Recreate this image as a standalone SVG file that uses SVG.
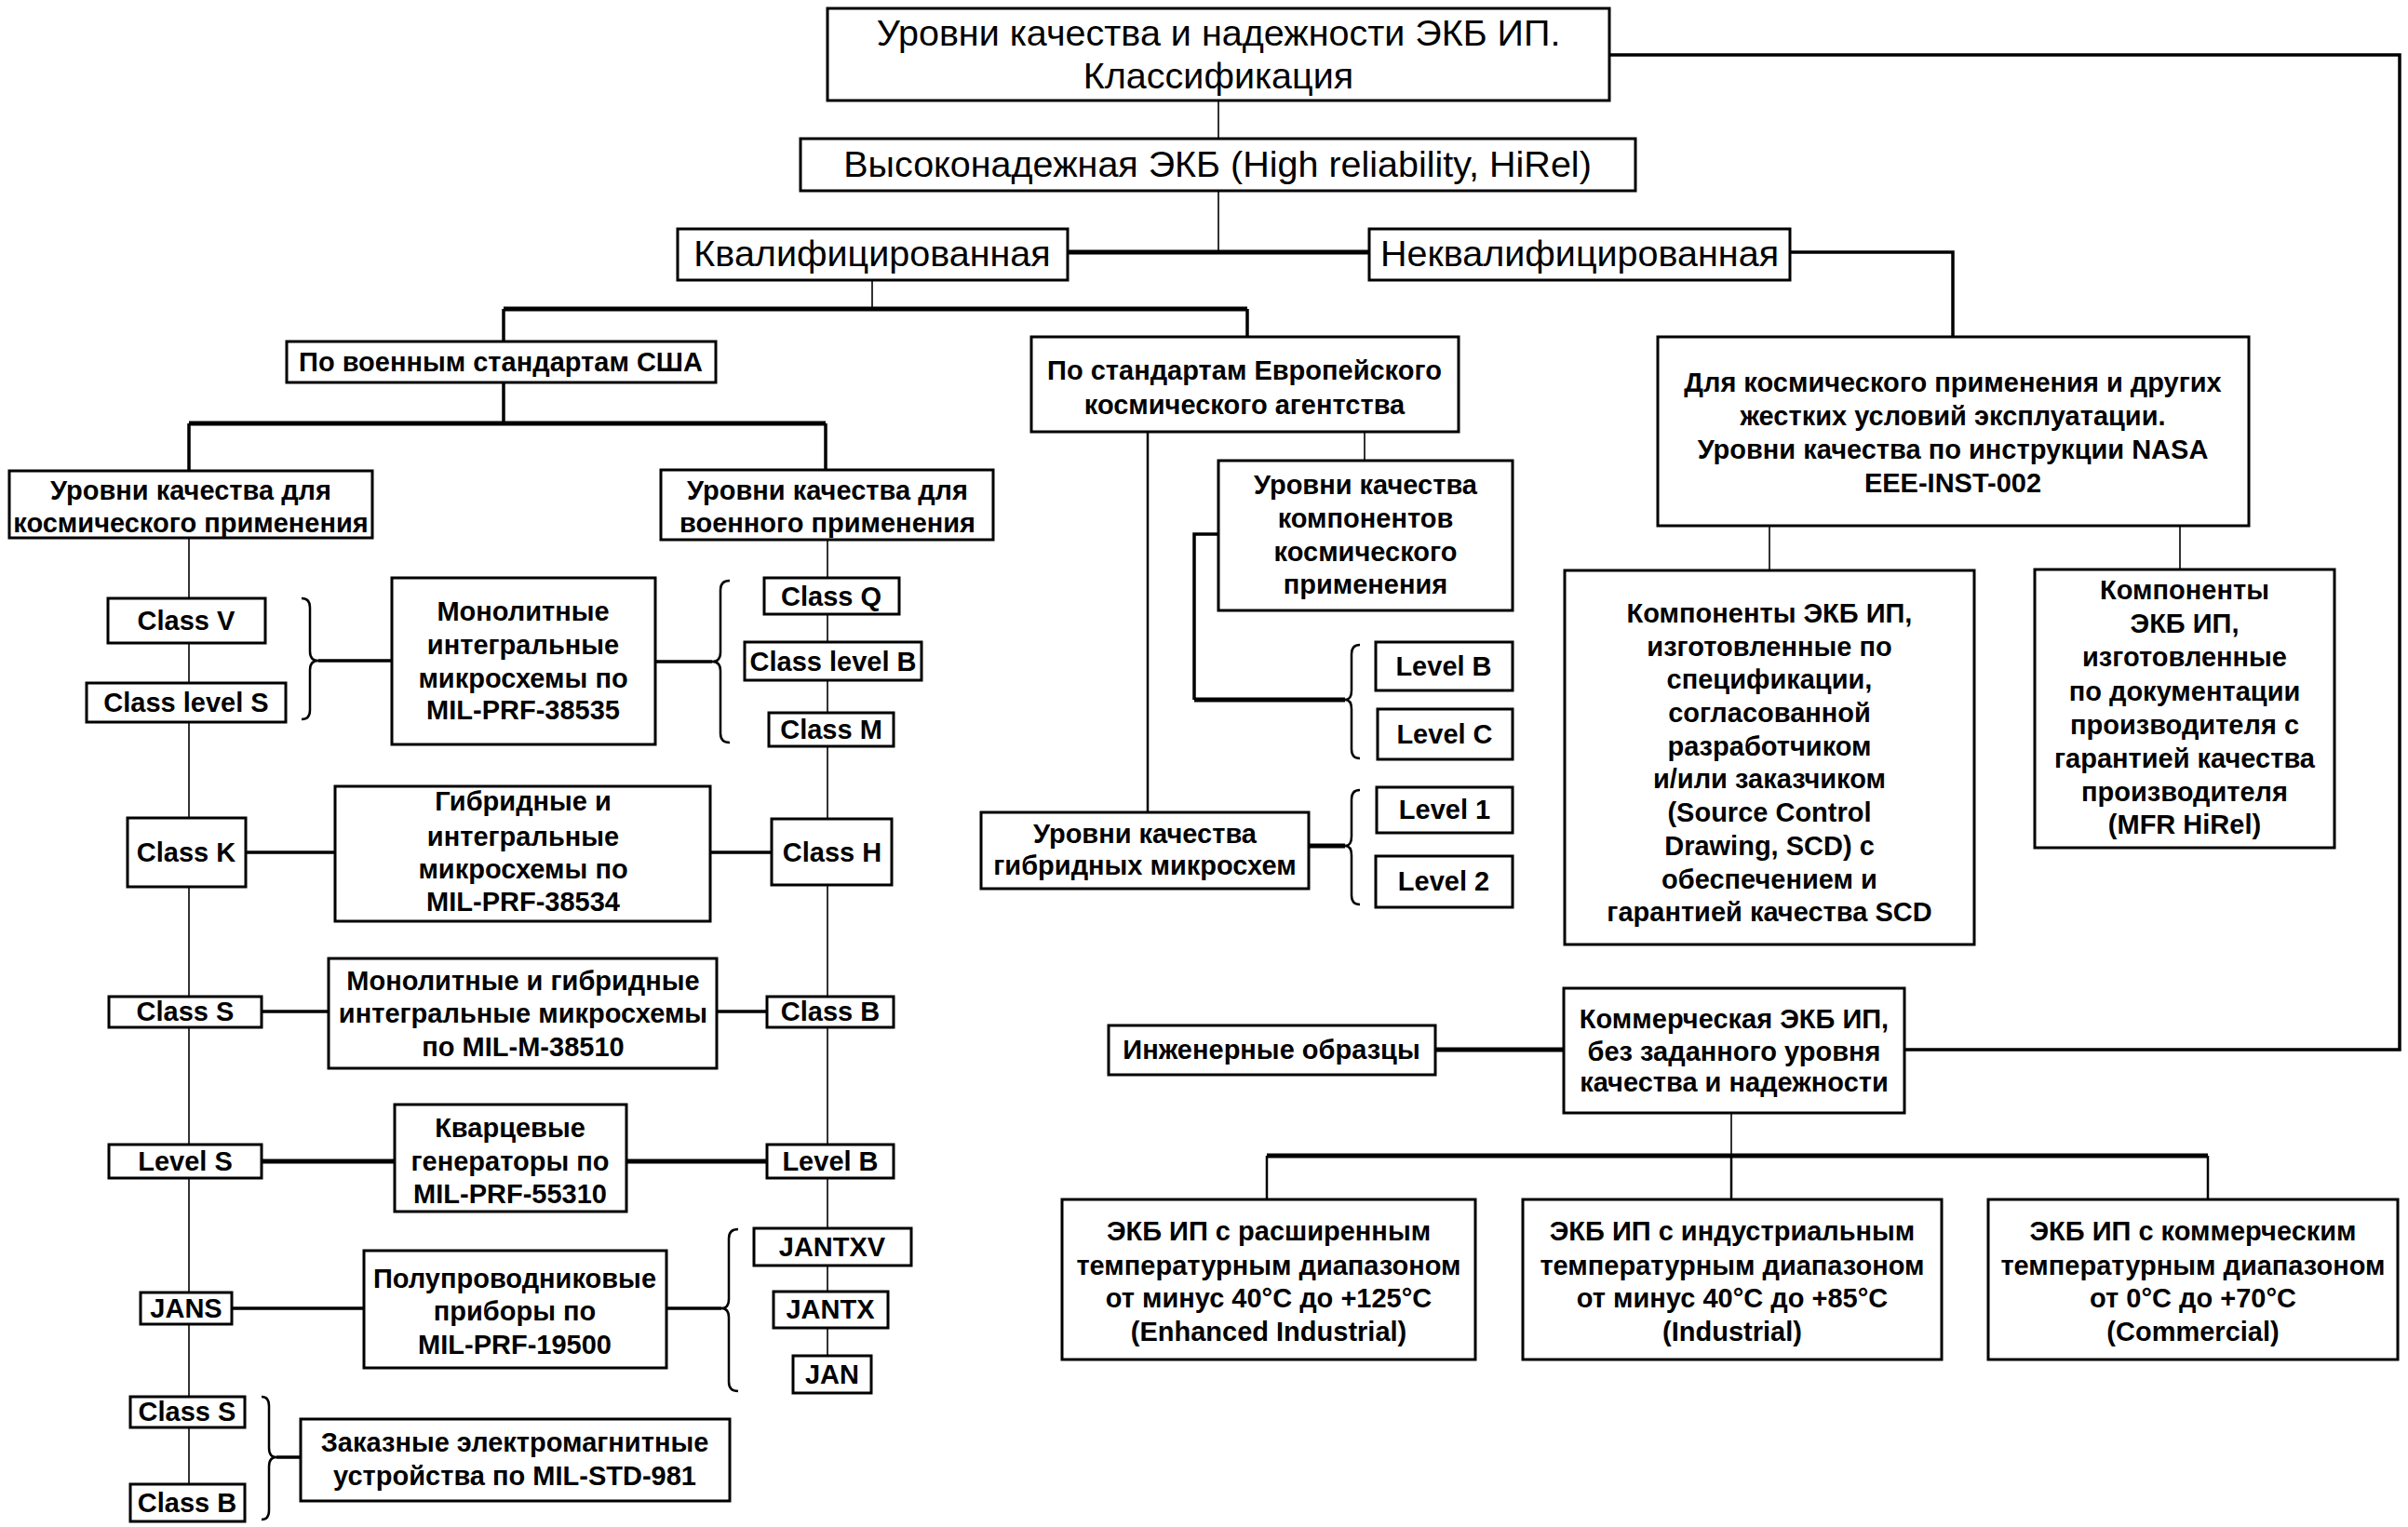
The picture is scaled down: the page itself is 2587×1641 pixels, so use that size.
<svg xmlns="http://www.w3.org/2000/svg" width="2587" height="1641" viewBox="0 0 2587 1641">
<style>
rect.b{fill:#fff;stroke:#000;stroke-width:3}
text{font-family:"Liberation Sans",Arial,sans-serif;fill:#000;text-anchor:middle}
.t1{font-size:39.5px}
.t2{font-size:29px;font-weight:bold}
.c path{fill:none;stroke:#000;stroke-linejoin:miter}
.w1{stroke-width:1.6}
.w2{stroke-width:2.5}
.w3{stroke-width:3.5}
.w4{stroke-width:5}
.br{stroke-width:2.5}
</style>
<rect width="2587" height="1641" fill="#fff"/>
<g id="connectors" class="c">
<path class="w1" d="M1309,108V149M1309,205V271M937,301V332M203,578V1595M889,580V1457M1466,464V495M1901,566V613M2342,566V612M1860,1196V1242"/>
<path class="w2" d="M1361,1242V1289M1860,1242V1289M2372,1242V1289M1233,464V873"/>
<path class="w3" d="M1923,271H2098V362M541,332V367M1340,332V362M541,411V455M203,455V506M887,455V505M1309,574H1283V752"/>
<path class="w4" d="M1147,271H1471M541,332H1340M203,455H887M1542,1128H1680M1361,1242H2372M281,1248H424M673,1248H824M1283,752H1445M1406,909H1445"/>
<path class="w3" d="M1729,59H2578V1128H2046M263,916H360M763,916H829M281,1087H353M770,1087H824M249,1406H391M716,1406H775M342,710H421M704,711H765M297,1566H323"/>
<path class="br" d="M324,643Q333,643 333,653V700Q333,710 342,710Q333,710 333,720V763Q333,773 324,773"/>
<path class="br" d="M784,624Q774,624 774,634V701Q774,711 765,711Q774,711 774,721V788Q774,798 784,798"/>
<path class="br" d="M793,1321Q783,1321 783,1331V1396Q783,1406 775,1406Q783,1406 783,1416V1485Q783,1495 793,1495"/>
<path class="br" d="M281,1501Q289,1501 289,1511V1556Q289,1566 297,1566Q289,1566 289,1576V1623Q289,1633 281,1633"/>
<path class="br" d="M1461,693Q1452,693 1452,703V742Q1452,752 1445,752Q1452,752 1452,762V805Q1452,815 1461,815"/>
<path class="br" d="M1461,849Q1452,849 1452,859V899Q1452,909 1445,909Q1452,909 1452,919V962Q1452,972 1461,972"/>
</g>
<g id="n-title"><rect class="b" x="889" y="9" width="840" height="99"/><text class="t1" x="1309" y="49">Уровни качества и надежности ЭКБ ИП.</text><text class="t1" x="1309" y="95">Классификация</text></g>
<g id="n-hirel"><rect class="b" x="860" y="149" width="897" height="56"/><text class="t1" x="1308" y="190">Высоконадежная ЭКБ (High reliability, HiRel)</text></g>
<g id="n-qual"><rect class="b" x="728" y="246" width="419" height="55"/><text class="t1" x="937" y="286">Квалифицированная</text></g>
<g id="n-nonqual"><rect class="b" x="1471" y="246" width="452" height="55"/><text class="t1" x="1697" y="286">Неквалифицированная</text></g>
<g id="n-usmil"><rect class="b" x="308" y="367" width="461" height="44"/><text class="t2" x="538" y="399">По военным стандартам США</text></g>
<g id="n-esa"><rect class="b" x="1108" y="362" width="459" height="102"/><text class="t2" x="1337"><tspan x="1337" y="408">По стандартам Европейского</tspan><tspan x="1337" y="445">космического агентства</tspan></text></g>
<g id="n-nasa"><rect class="b" x="1781" y="362" width="635" height="203"/><text class="t2"><tspan x="2098" y="421">Для космического применения и других</tspan><tspan x="2098" y="457">жестких условий эксплуатации.</tspan><tspan x="2098" y="493">Уровни качества по инструкции NASA</tspan><tspan x="2098" y="529">EEE-INST-002</tspan></text></g>
<g id="n-space"><rect class="b" x="10" y="506" width="390" height="72"/><text class="t2"><tspan x="205" y="537">Уровни качества для</tspan><tspan x="205" y="572">космического применения</tspan></text></g>
<g id="n-mil"><rect class="b" x="710" y="505" width="357" height="75"/><text class="t2"><tspan x="889" y="537">Уровни качества для</tspan><tspan x="889" y="572">военного применения</tspan></text></g>
<g id="n-esacomp"><rect class="b" x="1309" y="495" width="316" height="161"/><text class="t2"><tspan x="1467" y="531">Уровни качества</tspan><tspan x="1467" y="567">компонентов</tspan><tspan x="1467" y="603">космического</tspan><tspan x="1467" y="638">применения</tspan></text></g>
<g id="n-classV"><rect class="b" x="116" y="643" width="169" height="48"/><text class="t2" x="200" y="677">Class V</text></g>
<g id="n-classLS"><rect class="b" x="93" y="734" width="214" height="42"/><text class="t2" x="200" y="765">Class level S</text></g>
<g id="n-mono"><rect class="b" x="421" y="621" width="283" height="179"/><text class="t2"><tspan x="562" y="667">Монолитные</tspan><tspan x="562" y="703">интегральные</tspan><tspan x="562" y="739">микросхемы по</tspan><tspan x="562" y="773">MIL-PRF-38535</tspan></text></g>
<g id="n-classQ"><rect class="b" x="821" y="621" width="145" height="39"/><text class="t2" x="893" y="651">Class Q</text></g>
<g id="n-classLB"><rect class="b" x="800" y="690" width="190" height="41"/><text class="t2" x="895" y="721">Class level B</text></g>
<g id="n-classM"><rect class="b" x="826" y="766" width="134" height="36"/><text class="t2" x="893" y="794">Class M</text></g>
<g id="n-classK"><rect class="b" x="137" y="879" width="127" height="74"/><text class="t2" x="200" y="926">Class K</text></g>
<g id="n-hybrid"><rect class="b" x="360" y="845" width="403" height="145"/><text class="t2"><tspan x="562" y="871">Гибридные и</tspan><tspan x="562" y="909">интегральные</tspan><tspan x="562" y="944">микросхемы по</tspan><tspan x="562" y="979">MIL-PRF-38534</tspan></text></g>
<g id="n-classH"><rect class="b" x="829" y="880" width="129" height="71"/><text class="t2" x="894" y="926">Class H</text></g>
<g id="n-classS"><rect class="b" x="117" y="1071" width="164" height="33"/><text class="t2" x="199" y="1097">Class S</text></g>
<g id="n-monohyb"><rect class="b" x="353" y="1030" width="417" height="118"/><text class="t2"><tspan x="562" y="1064">Монолитные и гибридные</tspan><tspan x="562" y="1099">интегральные микросхемы</tspan><tspan x="562" y="1135">по MIL-M-38510</tspan></text></g>
<g id="n-classB"><rect class="b" x="824" y="1071" width="136" height="33"/><text class="t2" x="892" y="1097">Class B</text></g>
<g id="n-levelS"><rect class="b" x="117" y="1230" width="164" height="36"/><text class="t2" x="199" y="1258">Level S</text></g>
<g id="n-quartz"><rect class="b" x="424" y="1187" width="249" height="115"/><text class="t2"><tspan x="548" y="1222">Кварцевые</tspan><tspan x="548" y="1258">генераторы по</tspan><tspan x="548" y="1293">MIL-PRF-55310</tspan></text></g>
<g id="n-levelB"><rect class="b" x="824" y="1230" width="136" height="36"/><text class="t2" x="892" y="1258">Level B</text></g>
<g id="n-jantxv"><rect class="b" x="810" y="1320" width="169" height="40"/><text class="t2" x="894" y="1350">JANTXV</text></g>
<g id="n-jantx"><rect class="b" x="831" y="1388" width="123" height="39"/><text class="t2" x="892" y="1417">JANTX</text></g>
<g id="n-jan"><rect class="b" x="852" y="1457" width="84" height="40"/><text class="t2" x="894" y="1487">JAN</text></g>
<g id="n-jans"><rect class="b" x="151" y="1389" width="98" height="34"/><text class="t2" x="200" y="1416">JANS</text></g>
<g id="n-semi"><rect class="b" x="391" y="1344" width="325" height="126"/><text class="t2"><tspan x="553" y="1384">Полупроводниковые</tspan><tspan x="553" y="1419">приборы по</tspan><tspan x="553" y="1455">MIL-PRF-19500</tspan></text></g>
<g id="n-classS2"><rect class="b" x="140" y="1501" width="123" height="33"/><text class="t2" x="201" y="1527">Class S</text></g>
<g id="n-classB2"><rect class="b" x="140" y="1595" width="123" height="40"/><text class="t2" x="201" y="1625">Class B</text></g>
<g id="n-emag"><rect class="b" x="323" y="1525" width="461" height="88"/><text class="t2"><tspan x="553" y="1560">Заказные электромагнитные</tspan><tspan x="553" y="1596">устройства по MIL-STD-981</tspan></text></g>
<g id="n-esaLB"><rect class="b" x="1478" y="690" width="147" height="52"/><text class="t2" x="1551" y="726">Level B</text></g>
<g id="n-esaLC"><rect class="b" x="1480" y="762" width="145" height="54"/><text class="t2" x="1552" y="799">Level C</text></g>
<g id="n-esaL1"><rect class="b" x="1479" y="846" width="146" height="49"/><text class="t2" x="1552" y="880">Level 1</text></g>
<g id="n-esaL2"><rect class="b" x="1478" y="920" width="147" height="55"/><text class="t2" x="1551" y="957">Level 2</text></g>
<g id="n-hyblev"><rect class="b" x="1054" y="873" width="352" height="82"/><text class="t2"><tspan x="1230" y="906">Уровни качества</tspan><tspan x="1230" y="940">гибридных микросхем</tspan></text></g>
<g id="n-scd"><rect class="b" x="1681" y="613" width="440" height="402"/><text class="t2"><tspan x="1901" y="669">Компоненты ЭКБ ИП,</tspan><tspan x="1901" y="705">изготовленные по</tspan><tspan x="1901" y="740">спецификации,</tspan><tspan x="1901" y="776">согласованной</tspan><tspan x="1901" y="812">разработчиком</tspan><tspan x="1901" y="847">и/или заказчиком</tspan><tspan x="1901" y="883">(Source Control</tspan><tspan x="1901" y="919">Drawing, SCD) с</tspan><tspan x="1901" y="955">обеспечением и</tspan><tspan x="1901" y="990">гарантией качества SCD</tspan></text></g>
<g id="n-mfr"><rect class="b" x="2186" y="612" width="322" height="299"/><text class="t2"><tspan x="2347" y="644">Компоненты</tspan><tspan x="2347" y="680">ЭКБ ИП,</tspan><tspan x="2347" y="716">изготовленные</tspan><tspan x="2347" y="753">по документации</tspan><tspan x="2347" y="789">производителя с</tspan><tspan x="2347" y="825">гарантией качества</tspan><tspan x="2347" y="861">производителя</tspan><tspan x="2347" y="896">(MFR HiRel)</tspan></text></g>
<g id="n-eng"><rect class="b" x="1191" y="1102" width="351" height="53"/><text class="t2" x="1366" y="1138">Инженерные образцы</text></g>
<g id="n-comm"><rect class="b" x="1680" y="1062" width="366" height="134"/><text class="t2"><tspan x="1863" y="1105">Коммерческая ЭКБ ИП,</tspan><tspan x="1863" y="1140">без заданного уровня</tspan><tspan x="1863" y="1173">качества и надежности</tspan></text></g>
<g id="n-enh"><rect class="b" x="1141" y="1289" width="444" height="172"/><text class="t2"><tspan x="1363" y="1333">ЭКБ ИП с расширенным</tspan><tspan x="1363" y="1370">температурным диапазоном</tspan><tspan x="1363" y="1405">от минус 40°С до +125°С</tspan><tspan x="1363" y="1441">(Enhanced Industrial)</tspan></text></g>
<g id="n-ind"><rect class="b" x="1636" y="1289" width="450" height="172"/><text class="t2"><tspan x="1861" y="1333">ЭКБ ИП с индустриальным</tspan><tspan x="1861" y="1370">температурным диапазоном</tspan><tspan x="1861" y="1405">от минус 40°С до +85°С</tspan><tspan x="1861" y="1441">(Industrial)</tspan></text></g>
<g id="n-com"><rect class="b" x="2136" y="1289" width="440" height="172"/><text class="t2"><tspan x="2356" y="1333">ЭКБ ИП с коммерческим</tspan><tspan x="2356" y="1370">температурным диапазоном</tspan><tspan x="2356" y="1405">от 0°С до +70°С</tspan><tspan x="2356" y="1441">(Commercial)</tspan></text></g>
</svg>
